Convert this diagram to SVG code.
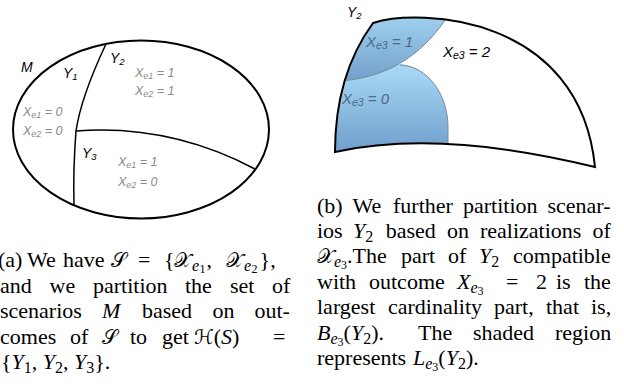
<svg xmlns="http://www.w3.org/2000/svg" width="624" height="386" viewBox="0 0 624 386">
<style>
.ol{fill:none;stroke:#000;stroke-width:2}
.dv{fill:none;stroke:#000;stroke-width:1.5}
.edge{fill:none;stroke:#7a8a99;stroke-width:1}
.lb{font-family:"Liberation Sans",Arial,sans-serif;font-style:italic}
.gray{fill:#8a8a8a;font-size:12.5px}
.blk{fill:#000;font-size:14px}
.bl{font-size:15px}
.cap{font-family:"Liberation Serif","Times New Roman",serif;font-size:22px;fill:#000}
.i{font-style:italic}
.s{font-size:16px}
.ss{font-size:12px}
.cal{font-family:"DejaVu Serif","DejaVu Sans",serif;font-size:20px}
</style>
<defs>
<clipPath id="clipY2"><path d="M373,23 C420,8 580,15 595,167 Q440,129 335,152 Q335,75 373,23 Z"/></clipPath>
<linearGradient id="g1" x1="0" y1="0" x2="0" y2="1"><stop offset="0" stop-color="#a9dcf8"/><stop offset="1" stop-color="#739fca"/></linearGradient>
<linearGradient id="g2" x1="0" y1="0" x2="0" y2="1"><stop offset="0" stop-color="#b0e0fa"/><stop offset="1" stop-color="#6493c4"/></linearGradient>
</defs>

<g id="fig-a">
  <g id="M">
    <ellipse class="ol" cx="141" cy="129.5" rx="128" ry="89"/>
    <text class="lb blk" x="21" y="72">M</text>
  </g>
  <g id="connectors">
    <path class="dv" d="M106,44 Q81,97 76,131 Q73,170 74,205"/>
    <path class="dv" d="M76,131 Q170,124 255,169"/>
  </g>
  <g id="Y1">
    <text class="lb blk" x="63" y="78">Y<tspan font-size="9.5" dy="2">1</tspan></text>
    <text class="lb gray" x="23" y="116">X<tspan font-size="9" dy="2">e1</tspan><tspan dy="-2"> = 0</tspan></text>
    <text class="lb gray" x="23" y="134.5">X<tspan font-size="9" dy="2">e2</tspan><tspan dy="-2"> = 0</tspan></text>
  </g>
  <g id="Y2">
    <text class="lb blk" x="110" y="63">Y<tspan font-size="9.5" dy="2">2</tspan></text>
    <text class="lb gray" x="135" y="77">X<tspan font-size="9" dy="2">e1</tspan><tspan dy="-2"> = 1</tspan></text>
    <text class="lb gray" x="135" y="95">X<tspan font-size="9" dy="2">e2</tspan><tspan dy="-2"> = 1</tspan></text>
  </g>
  <g id="Y3">
    <text class="lb blk" x="82" y="158">Y<tspan font-size="9.5" dy="2">3</tspan></text>
    <text class="lb gray" x="118" y="166">X<tspan font-size="9" dy="2">e1</tspan><tspan dy="-2"> = 1</tspan></text>
    <text class="lb gray" x="118" y="186">X<tspan font-size="9" dy="2">e2</tspan><tspan dy="-2"> = 0</tspan></text>
  </g>
</g>

<g id="fig-b">
  <g id="shade" clip-path="url(#clipY2)">
    <path fill="url(#g2)" d="M448,170 L448,127 C448,95 428,66 400,64 L380,55 L325,55 L325,170 Z"/>
    <path fill="url(#g1)" d="M325,0 L452,0 L448,16 C425,50 395,76 342,81 L325,82 Z"/>
    <path class="edge" d="M448,16 C425,50 395,76 342,81"/>
    <path class="edge" d="M448,150 L448,127 C448,95 428,66 400,65"/>
  </g>
  <g id="Y2b">
    <path class="ol" stroke-width="1.8" d="M373,23 C420,8 580,15 595,167 Q440,129 335,152 Q335,75 373,23 Z"/>
    <text class="lb blk" x="347" y="17">Y<tspan font-size="9.5" dy="2">2</tspan></text>
  </g>
  <g id="X1">
    <text class="lb bl" fill="#4d6a88" x="366" y="47">X<tspan font-size="10.5" dy="2">e3</tspan><tspan dy="-2"> = 1</tspan></text>
  </g>
  <g id="X2">
    <text class="lb bl" fill="#000" x="443" y="57">X<tspan font-size="10.5" dy="2">e3</tspan><tspan dy="-2"> = 2</tspan></text>
  </g>
  <g id="X0">
    <text class="lb bl" fill="#4d6a88" x="342" y="104">X<tspan font-size="10.5" dy="2">e3</tspan><tspan dy="-2"> = 0</tspan></text>
  </g>
</g>

<g id="caption-a" class="cap">
  <text y="267"><tspan x="-2">(a)</tspan><tspan x="27">We</tspan><tspan x="63">have</tspan><tspan x="111" class="cal">𝒮</tspan><tspan x="138">=</tspan><tspan x="164">{</tspan><tspan x="174" class="cal" font-size="22">𝒳</tspan><tspan class="i s" dx="1" dy="4">e</tspan><tspan class="ss" dx="0.5" dy="2">1</tspan><tspan dx="1" dy="-6">,</tspan><tspan x="226" class="cal" font-size="22">𝒳</tspan><tspan class="i s" dx="1" dy="4">e</tspan><tspan class="ss" dx="0.5" dy="2">2</tspan><tspan dx="2" dy="-6">},</tspan></text>
  <text y="292.7"><tspan x="0">and</tspan><tspan x="49.5">we</tspan><tspan x="93">partition</tspan><tspan x="185">the</tspan><tspan x="230">set</tspan><tspan x="272">of</tspan></text>
  <text y="318.3"><tspan x="0">scenarios</tspan><tspan x="102" class="i">M</tspan><tspan x="142">based</tspan><tspan x="212.5">on</tspan><tspan x="254.5">out-</tspan></text>
  <text y="344.3"><tspan x="0">comes</tspan><tspan x="70">of</tspan><tspan x="102" class="cal">𝒮</tspan><tspan x="130">to</tspan><tspan x="162">get</tspan><tspan x="194" class="cal">ℋ</tspan><tspan>(</tspan><tspan class="i">S</tspan><tspan>)</tspan><tspan x="273">=</tspan></text>
  <text y="369.3"><tspan x="1">{</tspan><tspan class="i">Y</tspan><tspan class="s" dy="4">1</tspan><tspan dy="-4">, </tspan><tspan class="i">Y</tspan><tspan class="s" dy="4">2</tspan><tspan dy="-4">, </tspan><tspan class="i">Y</tspan><tspan class="s" dy="4">3</tspan><tspan dy="-4">}.</tspan></text>
</g>

<g id="caption-b" class="cap">
  <text y="213.3"><tspan x="317">(b)</tspan><tspan x="352.6">We</tspan><tspan x="393">further</tspan><tspan x="463">partition</tspan><tspan x="547.5">scenar-</tspan></text>
  <text y="238.3"><tspan x="317">ios</tspan><tspan x="353" class="i">Y</tspan><tspan class="s" dy="4">2</tspan><tspan x="385.7" dy="-4">based</tspan><tspan x="447">on</tspan><tspan x="480">realizations</tspan><tspan x="592.5">of</tspan></text>
  <text y="263.3"><tspan x="317" class="cal">𝒳</tspan><tspan class="i s" dy="4">e</tspan><tspan class="ss" dy="2">3</tspan><tspan dy="-6">.The</tspan><tspan x="401">part</tspan><tspan x="448">of</tspan><tspan x="479" class="i">Y</tspan><tspan class="s" dy="4">2</tspan><tspan x="513" dy="-4">compatible</tspan></text>
  <text y="289.3"><tspan x="317">with</tspan><tspan x="369">outcome</tspan><tspan x="457" class="i">X</tspan><tspan class="i s" dy="4">e</tspan><tspan class="ss" dy="2">3</tspan><tspan x="506" dy="-6">=</tspan><tspan x="536">2</tspan><tspan x="556">is</tspan><tspan x="584">the</tspan></text>
  <text y="314.3"><tspan x="317">largest</tspan><tspan x="388">cardinality</tspan><tspan x="494">part,</tspan><tspan x="546">that</tspan><tspan x="591">is,</tspan></text>
  <text y="340"><tspan x="317" class="i">B</tspan><tspan class="i s" dy="4">e</tspan><tspan class="ss" dy="2">3</tspan><tspan dy="-6">(</tspan><tspan class="i">Y</tspan><tspan class="s" dy="4">2</tspan><tspan dy="-4">).</tspan><tspan x="418">The</tspan><tspan x="473">shaded</tspan><tspan x="555">region</tspan></text>
  <text y="365"><tspan x="317">represents</tspan><tspan x="413" class="i">L</tspan><tspan class="i s" dy="4">e</tspan><tspan class="ss" dy="2">3</tspan><tspan dy="-6">(</tspan><tspan class="i">Y</tspan><tspan class="s" dy="4">2</tspan><tspan dy="-4">).</tspan></text>
</g>
</svg>
